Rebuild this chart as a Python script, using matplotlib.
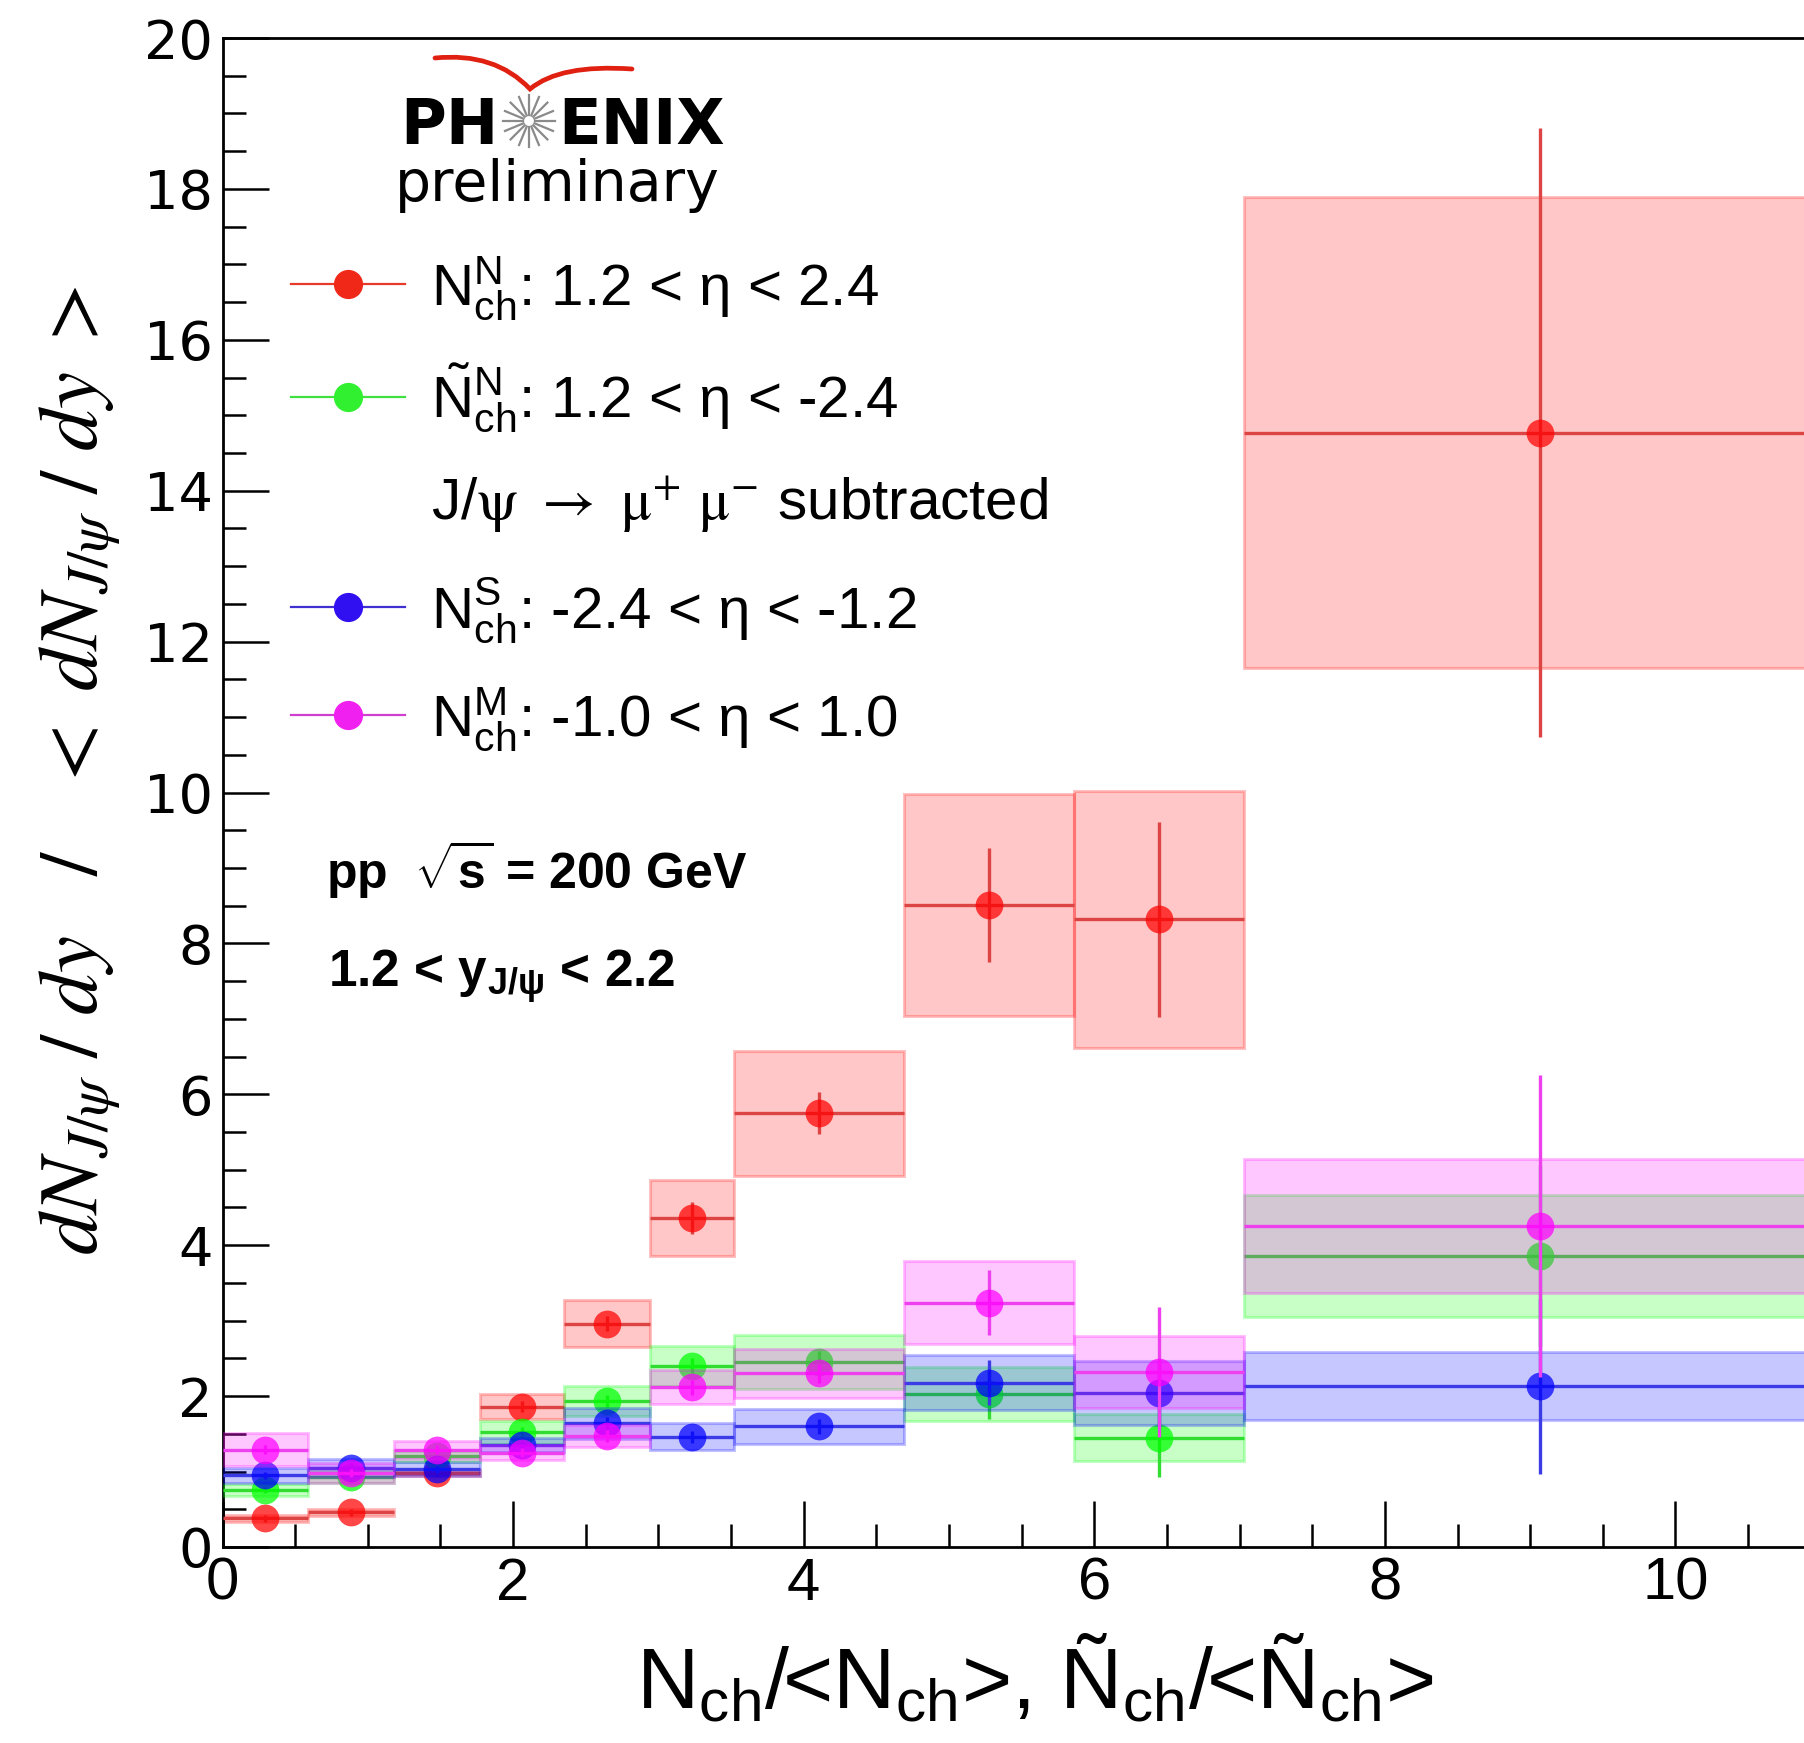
import numpy as np
import matplotlib
matplotlib.use('Agg')
import matplotlib.pyplot as plt
from matplotlib.lines import Line2D
from matplotlib.patches import PathPatch
from matplotlib.path import Path
from matplotlib.ticker import MultipleLocator

# ── Data ──────────────────────────────────────────────────────────────────────
bin_edges = [0.0, 0.59, 1.18, 1.77, 2.35, 2.94, 3.52, 4.69, 5.86, 7.03, 11.11]

# N^N_ch : 1.2 < eta < 2.4
north_y    = [0.38, 0.46, 0.98, 1.86, 2.96, 4.36, 5.75, 8.51, 8.32, 14.77]
north_stat = [0.05, 0.05, 0.05, 0.07, 0.10, 0.21, 0.28, 0.75, 1.29, 4.04]
north_sys  = [0.045, 0.045, 0.04, 0.165, 0.31, 0.50, 0.83, 1.47, 1.70, 3.12]

# N~^N_ch : J/psi muons subtracted
nsub_y    = [0.76, 0.93, 1.20, 1.52, 1.93, 2.40, 2.45, 2.03, 1.45, 3.86]
nsub_stat = [0.04, 0.05, 0.05, 0.07, 0.08, 0.10, 0.15, 0.33, 0.52, 1.20]
nsub_sys  = [0.08, 0.08, 0.07, 0.15, 0.20, 0.26, 0.36, 0.36, 0.31, 0.81]

# N^S_ch : -2.4 < eta < -1.2
south_y    = [0.95, 1.05, 1.03, 1.35, 1.64, 1.46, 1.60, 2.18, 2.04, 2.13]
south_stat = [0.05, 0.06, 0.05, 0.06, 0.08, 0.08, 0.10, 0.30, 0.45, 1.16]
south_sys  = [0.10, 0.12, 0.09, 0.09, 0.205, 0.18, 0.23, 0.37, 0.42, 0.45]

# N^M_ch : -1.0 < eta < 1.0
mid_y    = [1.29, 0.98, 1.29, 1.25, 1.47, 2.12, 2.30, 3.24, 2.32, 4.25]
mid_stat = [0.06, 0.05, 0.06, 0.06, 0.08, 0.10, 0.12, 0.43, 0.86, 2.00]
mid_sys  = [0.22, 0.13, 0.12, 0.10, 0.145, 0.22, 0.32, 0.55, 0.48, 0.89]

legend_labels = [
    r'$\mathrm{N}_{\mathrm{ch}}^{\mathrm{N}}$: 1.2 < η < 2.4',
    r'$\tilde{\mathrm{N}}_{\mathrm{ch}}^{\mathrm{N}}$: 1.2 < η < -2.4',
    r'J/$\mathrm{\psi}$ $\rightarrow$ $\mathrm{\mu}^{+}$ $\mathrm{\mu}^{-}$ subtracted',
    r'$\mathrm{N}_{\mathrm{ch}}^{\mathrm{S}}$: -2.4 < η < -1.2',
    r'$\mathrm{N}_{\mathrm{ch}}^{\mathrm{M}}$: -1.0 < η < 1.0',
]
x_ticks = [0, 2, 4, 6, 8, 10]

# ── Fonts ─────────────────────────────────────────────────────────────────────
SANS = 'Liberation Sans'
plt.rcParams['font.family'] = [SANS, 'DejaVu Sans']
plt.rcParams['mathtext.fontset'] = 'custom'
plt.rcParams['mathtext.rm'] = SANS
plt.rcParams['mathtext.it'] = SANS + ':italic'
plt.rcParams['mathtext.bf'] = SANS + ':bold'
plt.rcParams['mathtext.sf'] = SANS

W, H = 1804, 1743
fig = plt.figure(figsize=(W / 100, H / 100), dpi=100, facecolor='white')

# axes frame: x=0 at px 222.5, 145.3 px/unit; y=0 at px 1547, y=20 at px 38
XMAX = 12
ax = fig.add_axes([222.5 / W, (H - 1547) / H, XMAX * 145.3 / W, (1547 - 38) / H])
ax.set_xlim(0, XMAX)
ax.set_ylim(0, 20)

edges = np.array(bin_edges)
xc = 0.5 * (edges[:-1] + edges[1:])
xw = np.diff(edges)

series = [
    (north_y, north_stat, north_sys, (1.0, 0.0, 0.0), '#DD4444'),
    (nsub_y,  nsub_stat,  nsub_sys,  (0.0, 1.0, 0.0), '#30DD30'),
    (south_y, south_stat, south_sys, (0.0, 0.0, 1.0), '#3C3CE6'),
    (mid_y,   mid_stat,   mid_sys,   (1.0, 0.0, 1.0), '#EE40EE'),
]

for k, (y, st, sy, base, lc) in enumerate(series):
    y = np.array(y); sy = np.array(sy)
    # systematic boxes
    ax.bar(xc, 2 * sy, width=xw, bottom=y - sy, align='center',
           facecolor=(*base, 0.22), edgecolor=(*base, 0.24), linewidth=2.2,
           zorder=2 + 2 * k)
    # points with bin width and statistical error
    ax.errorbar(xc, y, xerr=xw / 2, yerr=st, fmt='o', ms=20,
                color=lc, mfc=(*base, 0.72), mec='none',
                elinewidth=2.4, capsize=0, zorder=3 + 2 * k)

# ── Axes styling ──────────────────────────────────────────────────────────────
for s in ['left', 'bottom', 'top']:
    ax.spines[s].set_linewidth(2.0)
ax.spines['right'].set_visible(False)

ax.set_xticks(x_ticks)
ax.xaxis.set_minor_locator(MultipleLocator(0.5))
ax.yaxis.set_major_locator(MultipleLocator(2))
ax.yaxis.set_minor_locator(MultipleLocator(0.5))
ax.tick_params(which='both', direction='in', top=False, right=False, width=1.8)
ax.tick_params(which='major', length=33)
ax.tick_params(which='minor', length=16.5)
ax.tick_params(axis='x', which='major', pad=7, labelsize=43)
ax.tick_params(axis='y', which='major', pad=7, labelsize=39)
for lab in ax.get_yticklabels():
    lab.set_family('DejaVu Sans')

# ── Legend ────────────────────────────────────────────────────────────────────
leg_colors = ['#F02818', '#30F030', '#3010F0', '#F020F0']
leg_lines = ['#E83A2A', '#40E040', '#4030D0', '#D040D0']
handles = []
for c, l in zip(leg_colors, leg_lines):
    handles.append(Line2D([], [], color=l, lw=1.6, marker='o', ms=20,
                          mfc=c, mec=c))
handles.insert(2, Line2D([], [], linestyle='none', marker=None))
leg = ax.legend(handles, legend_labels, loc='upper left',
                bbox_to_anchor=(0.0394, 0.857), frameon=False, fontsize=42,
                handlelength=1.95, handletextpad=0.45, labelspacing=0.69,
                borderpad=0, borderaxespad=0)
leg.get_texts()[2].set_math_fontfamily('stix')

# ── Axis titles ───────────────────────────────────────────────────────────────
fig.text(1035 / W, (H - 1708) / H,
         'N$_\\mathrm{ch}$/<N$_\\mathrm{ch}$>, Ñ$_\\mathrm{ch}$/<Ñ$_\\mathrm{ch}$>',
         fontsize=62, ha='center', va='baseline')
fig.text(80 / W, (H - 770) / H,
         r'$dN_{J/\psi}\ /\ dy\ \ \ \mathrm{/}\ \ \ <\ dN_{J/\psi}\ /\ dy\ >$',
         math_fontfamily='stix', fontsize=60, rotation=90,
         ha='center', va='center')

# ── Annotations ───────────────────────────────────────────────────────────────
fig.text(326 / W, (H - 888) / H, r'pp  $\mathbf{\sqrt{s}}$ = 200 GeV',
         fontweight='bold', fontsize=36, va='baseline')
fig.text(328 / W, (H - 987) / H,
         r'1.2 < $\mathbf{y}_{\mathbf{J/}\mathbf{\psi}}$ < 2.2',
         fontweight='bold', fontsize=37, va='baseline')

# ── PHENIX logo ───────────────────────────────────────────────────────────────
fig.text(400 / W, (H - 144) / H, 'PH', family='DejaVu Sans',
         fontweight='bold', fontsize=45, va='baseline')
fig.text(558 / W, (H - 144) / H, 'ENIX', family='DejaVu Sans',
         fontweight='bold', fontsize=45, va='baseline')
fig.text(395 / W, (H - 201) / H, 'preliminary', family='DejaVu Sans',
         fontsize=41, va='baseline')

inch = fig.dpi_scale_trans
cx, cy = 529 / 100, (H - 121) / 100
for a in np.linspace(0, np.pi, 8, endpoint=False):
    for sgn in (1, -1):
        dx, dy = sgn * np.cos(a), sgn * np.sin(a)
        fig.add_artist(Line2D([cx + 0.06 * dx, cx + 0.26 * dx],
                              [cy + 0.06 * dy, cy + 0.26 * dy],
                              color='#8A8A8A', lw=1.6, transform=inch))
# red swoosh above the logo (pixel coords -> inches)
sw = [(435, 58), (495, 52), (530, 89), (560, 64), (632, 69)]
sw_pts = [(px_ / 100, (H - py_) / 100) for px_, py_ in sw]
swoosh = Path(sw_pts, [Path.MOVETO, Path.CURVE3, Path.CURVE3,
                       Path.CURVE3, Path.CURVE3])
fig.add_artist(PathPatch(swoosh, facecolor='none', edgecolor='#E02010',
                         lw=3.4, capstyle='round', joinstyle='miter',
                         transform=inch))

fig.savefig('out.png', dpi=100, facecolor='white')
